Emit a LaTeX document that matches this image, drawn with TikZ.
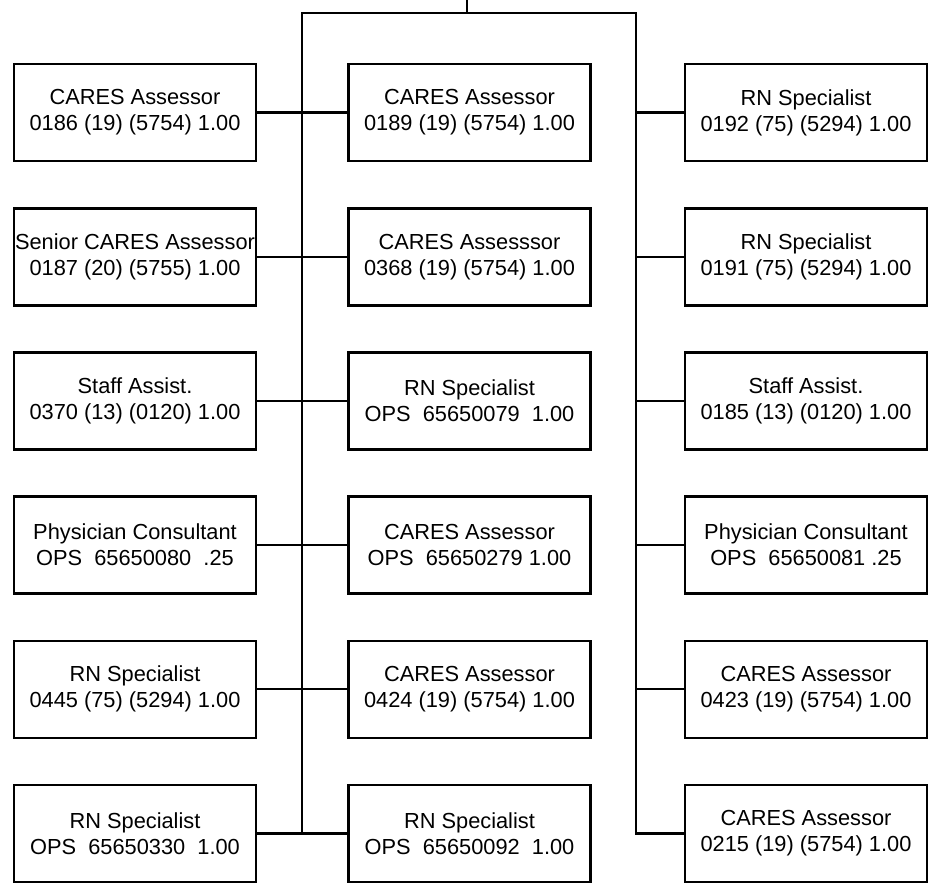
\documentclass[tikz,border=0pt]{standalone}
\usepackage{fontspec}
\setmainfont{Liberation Sans}
\begin{document}
\begin{tikzpicture}[x=1pt,y=-1pt,
  post/.style={draw=black, line width=2.6pt, fill=white, minimum width=242pt,
    minimum height=97pt, inner sep=0pt, align=center,
    font=\fontsize{21.8}{26}\selectfont},
  link/.style={draw=black, line width=2.3pt, line join=miter}]
\useasboundingbox (0,0) rectangle (941,892);

% column centres: 135, 469.5, 806 ; row pitch 144.2
\foreach \r/\y in {1/112.5, 2/256.7, 3/400.9, 4/545.1, 5/689.3, 6/833.5} {
  \coordinate (rowL\r) at (135,\y);
  \coordinate (rowM\r) at (469.5,\y);
  \coordinate (rowR\r) at (806,\y);
}

% left column
\node[post] (L1) at (rowL1) {CARES Assessor\\0186 (19) (5754) 1.00};
\node[post] (L2) at (rowL2) {Senior CARES Assessor\\0187 (20) (5755) 1.00};
\node[post] (L3) at (rowL3) {Staff Assist.\\0370 (13) (0120) 1.00};
\node[post] (L4) at (rowL4) {Physician Consultant\\OPS\ \ 65650080\ \ .25};
\node[post] (L5) at (rowL5) {RN Specialist\\0445 (75) (5294) 1.00};
\node[post] (L6) at (rowL6) {RN Specialist\\OPS\ \ 65650330\ \ 1.00};

% middle column
\node[post] (M1) at (rowM1) {CARES Assessor\\0189 (19) (5754) 1.00};
\node[post] (M2) at (rowM2) {CARES Assesssor\\0368 (19) (5754) 1.00};
\node[post] (M3) at (rowM3) {RN Specialist\\OPS\ \ 65650079\ \ 1.00};
\node[post] (M4) at (rowM4) {CARES Assessor\\OPS\ \ 65650279 1.00};
\node[post] (M5) at (rowM5) {CARES Assessor\\0424 (19) (5754) 1.00};
\node[post] (M6) at (rowM6) {RN Specialist\\OPS\ \ 65650092\ \ 1.00};

% right column
\node[post] (R1) at (rowR1) {RN Specialist\\0192 (75) (5294) 1.00};
\node[post] (R2) at (rowR2) {RN Specialist\\0191 (75) (5294) 1.00};
\node[post] (R3) at (rowR3) {Staff Assist.\\0185 (13) (0120) 1.00};
\node[post] (R4) at (rowR4) {Physician Consultant\\OPS\ \ 65650081 .25};
\node[post] (R5) at (rowR5) {CARES Assessor\\0423 (19) (5754) 1.00};
\node[post] (R6) at (rowR6) {CARES Assessor\\0215 (19) (5754) 1.00};

% trunk lines
\coordinate (root) at (467,0);
\coordinate (split) at (467,13);
\coordinate (tl) at (302,13);
\coordinate (tr) at (636,13);
\draw[link] (root) -- (split);
\draw[link] (tl |- L6.east) -- (tl) -- (tr) |- (R6.west);

% branches
\foreach \r in {1,...,6} {
  \draw[link] (L\r.east) -- (M\r.west);
}
\foreach \r in {1,...,5} {
  \draw[link] (tr |- R\r.west) -- (R\r.west);
}
\end{tikzpicture}
\end{document}
